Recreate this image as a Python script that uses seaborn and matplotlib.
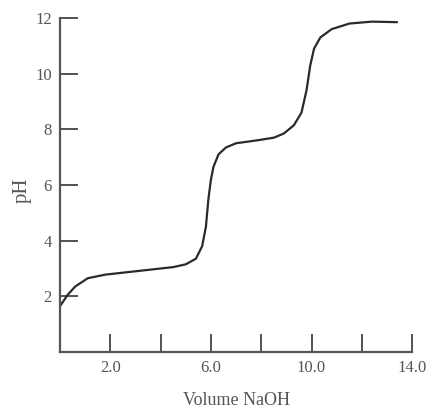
import matplotlib
matplotlib.use("Agg")
import matplotlib.pyplot as plt
import pandas as pd
import seaborn as sns

# titration curve
volume_naoh = [0.0, 0.3, 0.6, 1.1, 1.8, 2.5, 3.5, 4.5, 5.0, 5.4, 5.65, 5.8, 5.9,
               6.0, 6.1, 6.3, 6.6, 7.0, 7.8, 8.5, 8.9, 9.3, 9.6, 9.8, 9.95,
               10.1, 10.35, 10.8, 11.5, 12.4, 13.4]
ph_values = [1.65, 2.05, 2.35, 2.65, 2.78, 2.85, 2.95, 3.05, 3.15, 3.35, 3.8, 4.5, 5.5,
             6.2, 6.65, 7.1, 7.35, 7.5, 7.6, 7.7, 7.85, 8.15, 8.6, 9.4, 10.3,
             10.9, 11.3, 11.6, 11.8, 11.87, 11.85]

x_ticks = [2, 4, 6, 8, 10, 12, 14]
x_tick_labels = ['2.0', '', '6.0', '', '10.0', '', '14.0']
y_ticks = [2, 4, 6, 8, 10, 12]
y_tick_labels = ['2', '4', '6', '8', '10', '12']

sns.set_style("ticks")
plt.rcParams['font.family'] = ['Liberation Serif', 'DejaVu Serif']

frame = pd.DataFrame({'volume': volume_naoh, 'pH': ph_values})

fig = plt.figure(figsize=(4.32, 4.13), dpi=100)
ax = fig.add_axes([0.139, 0.1477, 0.815, 0.8087])

sns.lineplot(data=frame, x='volume', y='pH', ax=ax, color='#2a2a2a', linewidth=1.6)

ax.set_xlim(0, 14)
ax.set_ylim(0, 12)
ax.set_xticks(x_ticks)
ax.set_xticklabels(x_tick_labels)
ax.set_yticks(y_ticks)
ax.set_yticklabels(y_tick_labels)

sns.despine(ax=ax)
for side in ['left', 'bottom']:
    ax.spines[side].set_color('#555555')
    ax.spines[side].set_linewidth(1.6)

ax.tick_params(direction='in', length=13, width=1.3, color='#444444',
               labelsize=12, labelcolor='#555555')
ax.tick_params(axis='x', pad=6)
ax.tick_params(axis='y', pad=6)

ax.set_xlabel('Volume NaOH', fontsize=13, color='#555555')
ax.set_ylabel('pH', fontsize=15, color='#555555')
ax.xaxis.set_label_coords(0.5, -0.144)
ax.yaxis.set_label_coords(-0.108, 0.485)
ax.xaxis.label.set_va('center')
ax.yaxis.label.set_va('center')

fig.savefig('out.png', dpi=100, facecolor='white')
